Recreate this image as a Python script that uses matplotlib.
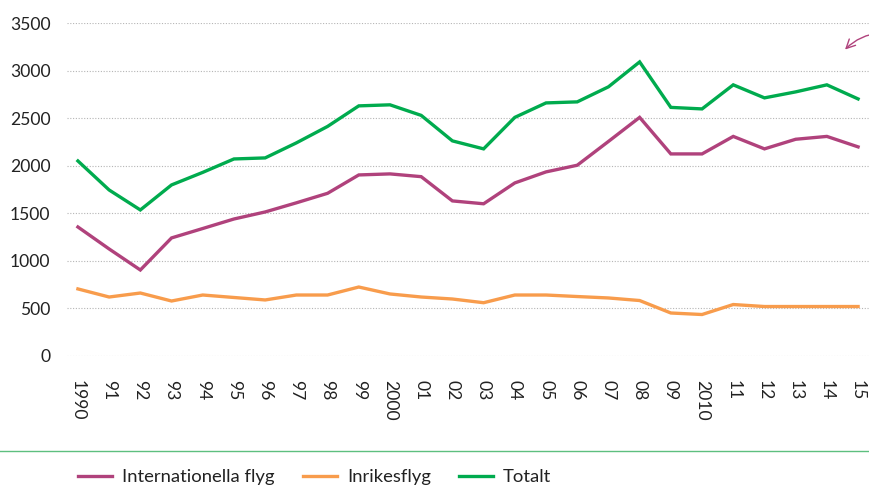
import matplotlib
matplotlib.use("Agg")
import matplotlib.pyplot as plt
from matplotlib.lines import Line2D

# data
years = list(range(1990, 2016))
year_labels = ["1990", "91", "92", "93", "94", "95", "96", "97", "98", "99",
               "2000", "01", "02", "03", "04", "05", "06", "07", "08", "09",
               "2010", "11", "12", "13", "14", "15"]

internationella = [1356, 1125, 904, 1241, 1340, 1440, 1514, 1610, 1710, 1903,
                   1914, 1885, 1630, 1600, 1819, 1935, 2005, 2255, 2508, 2124,
                   2124, 2308, 2177, 2278, 2308, 2198]
inrikes = [705, 620, 662, 578, 641, 615, 589, 641, 641, 725,
           652, 620, 599, 560, 641, 641, 625, 610, 583, 452,
           436, 541, 520, 520, 520, 520]
totalt = [2050, 1745, 1535, 1798, 1930, 2071, 2082, 2240, 2413, 2629,
          2640, 2529, 2261, 2177, 2508, 2660, 2671, 2829, 3091, 2613,
          2597, 2850, 2713, 2776, 2850, 2702]

series_names = ["Internationella flyg", "Inrikesflyg", "Totalt"]
colors = ["#b0427c", "#f89c4c", "#00ab4e"]

plt.rcParams["font.family"] = ["Lato", "DejaVu Sans"]
plt.rcParams["font.size"] = 12

fig = plt.figure(figsize=(8.69, 4.87), dpi=100)
ax = fig.add_axes([67 / 869, 131 / 487, 1 - 67 / 869, 333 / 487])

for vals, name, col in zip([internationella, inrikes, totalt], series_names, colors):
    ax.plot(years, vals, color=col, lw=2.4, label=name, solid_joinstyle="miter")

ax.set_xlim(1989.65, 2015.35)
ax.set_ylim(0, 3500)
ax.set_yticks(range(0, 3501, 500))
ax.set_xticks(years)
ax.set_xticklabels(year_labels, rotation=270, va="top", ha="center")
ax.tick_params(axis="x", length=0, pad=17, labelsize=12.6, colors="#222222")
ax.tick_params(axis="y", length=0, pad=12, labelsize=12.6, colors="#222222")
ax.grid(axis="y", color="#b5b5b5", lw=0.8, ls=(0, (1, 1.5)))
ax.set_axisbelow(True)
for s in ax.spines.values():
    s.set_visible(False)

# arrow pointing in from the right edge
ax.annotate("", xy=(2014.52, 3200), xytext=(2015.8, 3400),
            arrowprops=dict(arrowstyle="->", color="#b0427c", lw=1.0,
                            mutation_scale=16,
                            connectionstyle="arc3,rad=0.2"),
            annotation_clip=False)

# separator line above the legend
fig.add_artist(Line2D([0, 1], [1 - 451 / 487, 1 - 451 / 487],
                      transform=fig.transFigure, color="#5dbf7f", lw=1.0))

handles, labels = ax.get_legend_handles_labels()
fig.legend(handles, labels, loc="center left", bbox_to_anchor=(78 / 869, 10 / 487),
           ncol=3, frameon=False, handlelength=1.85, handletextpad=0.55,
           columnspacing=1.5, borderpad=0, borderaxespad=0, fontsize=13.3,
           labelcolor="#222222")

fig.savefig("out.png", dpi=100)
